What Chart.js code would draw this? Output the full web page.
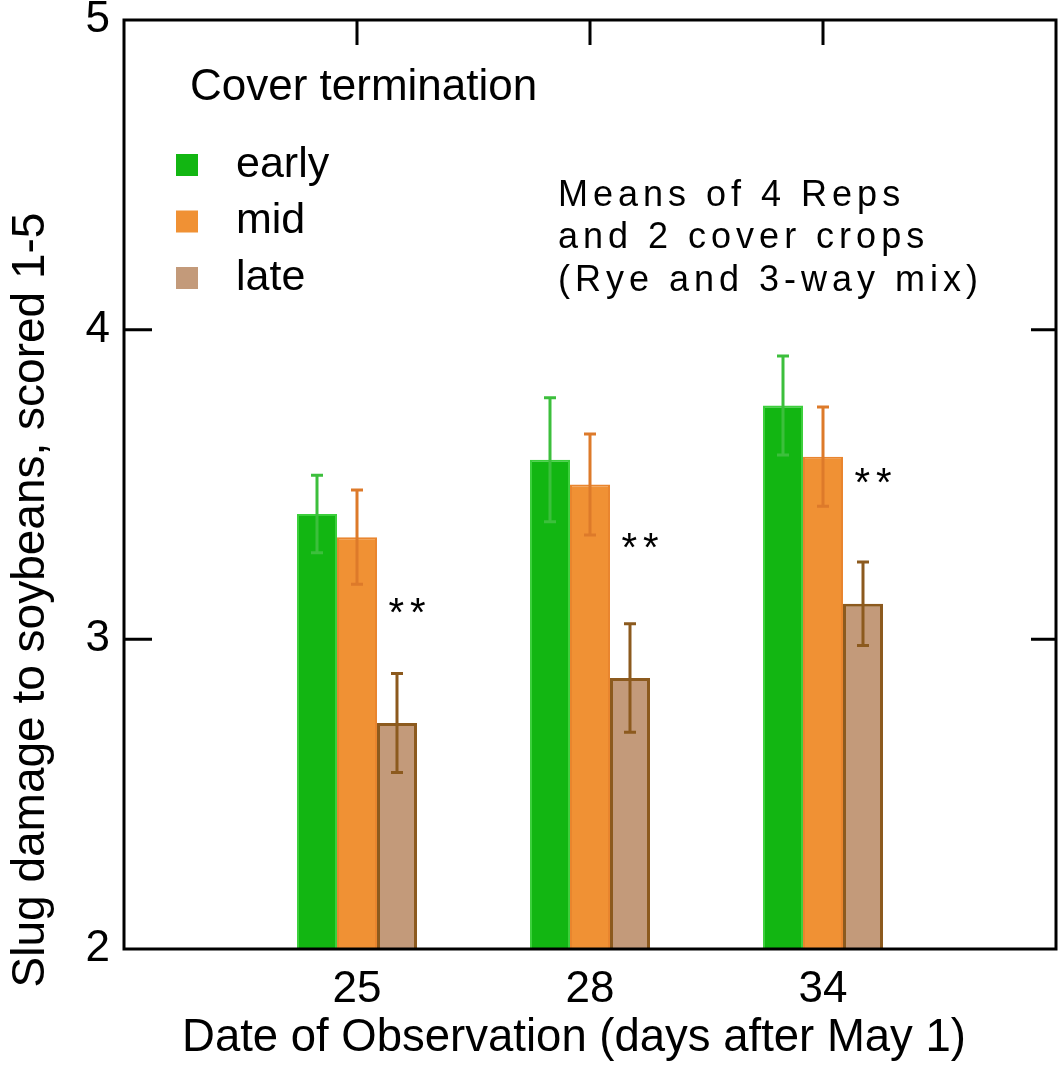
<!DOCTYPE html>
<html>
<head>
<meta charset="utf-8">
<script src="https://cdn.jsdelivr.net/npm/chart.js@4/dist/chart.umd.min.js"></script>
<style>
  html, body { margin: 0; padding: 0; background: #fff; }
  #wrap { width: 1059px; height: 1071px; }
</style>
</head>
<body>
<div id="wrap"><canvas id="chart" width="1059" height="1071"></canvas></div>
<script>
// data
const categories = ['25', '28', '34'];
const seriesNames = ['early', 'mid', 'late'];
const early = [3.405, 3.58, 3.755];
const mid = [3.33, 3.50, 3.59];
const late = [2.73, 2.875, 3.115];
const earlyErr = [0.125, 0.20, 0.16];
const midErr = [0.152, 0.163, 0.16];
const lateErr = [0.16, 0.175, 0.135];
const starY = [3.105, 3.315, 3.525];   // "**" marks next to the late bars
const yTicks = [2, 3, 4, 5];
const noteLines = ['Means of 4 Reps', 'and 2 cover crops', '(Rye and 3-way mix)'];
const xTitle = 'Date of Observation (days after May 1)';
const yTitle = 'Slug damage to soybeans, scored 1-5';

const FONT = "'Liberation Sans', Arial, sans-serif";

const fills = ['#12b612', '#f09134', '#c39a7a'];
const borders = ['#3ccf3c', '#e9852e', '#8c5a1e'];
const errColors = ['#3cbf3c', '#dd7a2a', '#8c5a1e'];
const errs = [earlyErr, midErr, lateErr];

function toPoints(vals) {
  return vals.map((v, i) => ({ x: i + 1, y: v }));
}

// box, inward ticks
const framePlugin = {
  id: 'frame',
  beforeDatasetsDraw(chart) {
    const { ctx, chartArea: a, scales } = chart;
    ctx.save();
    ctx.strokeStyle = '#000';
    ctx.lineWidth = 3;
    ctx.beginPath();
    categories.forEach((c, i) => {
      const x = scales.x.getPixelForValue(i + 1);
      ctx.moveTo(x, a.top); ctx.lineTo(x, a.top + 25);
    });
    yTicks.slice(1, -1).forEach(t => {
      const y = scales.y.getPixelForValue(t);
      ctx.moveTo(a.left, y); ctx.lineTo(a.left + 28, y);
      ctx.moveTo(a.right, y); ctx.lineTo(a.right - 25, y);
    });
    ctx.stroke();
    ctx.restore();
  },
  afterDatasetsDraw(chart) {
    const { ctx, chartArea: a } = chart;
    ctx.save();
    ctx.strokeStyle = '#000';
    ctx.lineWidth = 3;
    ctx.strokeRect(a.left, a.top, a.right - a.left, a.bottom - a.top);
    ctx.restore();
  }
};

// error bars + significance stars
const errorPlugin = {
  id: 'errbars',
  afterDatasetsDraw(chart) {
    const { ctx, scales } = chart;
    ctx.save();
    chart.data.datasets.forEach((ds, di) => {
      const meta = chart.getDatasetMeta(di);
      ctx.strokeStyle = errColors[di];
      ctx.lineWidth = 3;
      meta.data.forEach((bar, i) => {
        const v = ds.data[i].y;
        const e = errs[di][i];
        const yt = scales.y.getPixelForValue(v + e);
        const yb = scales.y.getPixelForValue(v - e);
        ctx.beginPath();
        ctx.moveTo(bar.x, yt); ctx.lineTo(bar.x, yb);
        ctx.moveTo(bar.x - 6, yt); ctx.lineTo(bar.x + 6, yt);
        ctx.moveTo(bar.x - 6, yb); ctx.lineTo(bar.x + 6, yb);
        ctx.stroke();
      });
    });
    const lateMeta = chart.getDatasetMeta(2);
    ctx.fillStyle = '#000';
    ctx.font = '40px ' + FONT;
    ctx.textAlign = 'center';
    ctx.textBaseline = 'alphabetic';
    ctx.letterSpacing = '6px';
    lateMeta.data.forEach((bar, i) => {
      const y = scales.y.getPixelForValue(starY[i]);
      ctx.fillText('**', bar.x + 13, y + 19);
    });
    ctx.restore();
  }
};

// legend, note text, axis titles
const textPlugin = {
  id: 'texts',
  afterDraw(chart) {
    const { ctx } = chart;
    ctx.save();
    ctx.fillStyle = '#000';
    ctx.textBaseline = 'middle';
    ctx.textAlign = 'left';
    ctx.font = '44px ' + FONT;
    ctx.fillText('Cover termination', 190, 88);
    ctx.font = '43px ' + FONT;
    chart.data.datasets.forEach((ds, i) => {
      const y = 165 + i * 56.5;
      ctx.fillStyle = fills[i];
      ctx.fillRect(176, y - 11, 22, 22);
      ctx.fillStyle = '#000';
      ctx.fillText(ds.label, 236, y);
    });
    ctx.font = '36px ' + FONT;
    ctx.letterSpacing = '5px';
    noteLines.forEach((t, i) => {
      ctx.fillText(t, 558, 196 + i * 42.5);
    });
    ctx.letterSpacing = '0px';

    ctx.textAlign = 'center';
    ctx.font = '45.5px ' + FONT;
    ctx.fillText(xTitle, 574, 1038);
    ctx.translate(31, 600);
    ctx.rotate(-Math.PI / 2);
    ctx.font = '46px ' + FONT;
    ctx.fillText(yTitle, 0, 0);
    ctx.restore();
  }
};

const datasets = [early, mid, late].map((vals, i) => ({
  label: seriesNames[i],
  data: toPoints(vals),
  backgroundColor: fills[i],
  borderColor: borders[i],
  borderWidth: i === 2 ? 3 : 2,
  barPercentage: 1,
  categoryPercentage: 0.515
}));

new Chart(document.getElementById('chart'), {
  type: 'bar',
  data: { datasets },
  plugins: [framePlugin, errorPlugin, textPlugin],
  options: {
    responsive: false,
    animation: false,
    layout: { padding: { top: 20, right: 3, left: 0, bottom: 0 } },
    plugins: {
      legend: { display: false },
      tooltip: { enabled: false }
    },
    scales: {
      x: {
        type: 'linear',
        min: 0,
        max: 4,
        offset: false,
        grid: { display: false, drawTicks: false, offset: false },
        border: { display: false },
        ticks: {
          stepSize: 1,
          autoSkip: false,
          maxRotation: 0,
          padding: 14,
          color: '#000',
          font: { size: 44, family: FONT },
          callback: v => categories[v - 1] ?? ''
        },
        afterFit: s => {
          s.height = 122;
          s.paddingLeft = 0;
          s.paddingRight = 0;
        }
      },
      y: {
        min: 2,
        max: 5,
        grid: { display: false, drawTicks: false },
        border: { display: false },
        afterBuildTicks: s => { s.ticks = yTicks.map(v => ({ value: v })); },
        ticks: {
          padding: 14,
          color: '#000',
          font: { size: 44, family: FONT }
        },
        afterFit: s => {
          s.width = 124;
          s.paddingTop = 0;
          s.paddingBottom = 0;
        }
      }
    }
  }
});
</script>
</body>
</html>
